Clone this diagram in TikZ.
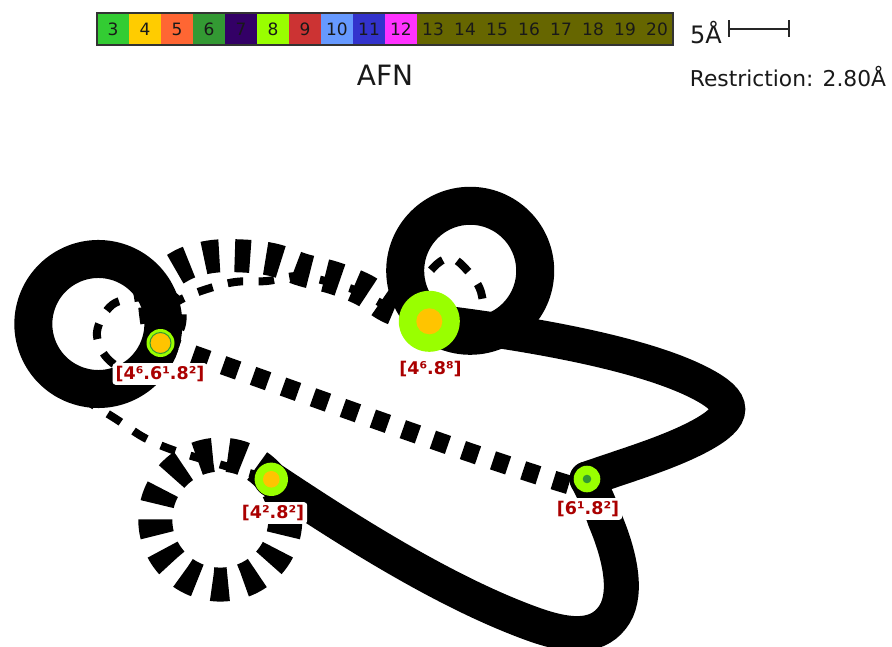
\documentclass[tikz,border=0pt]{standalone}
\usepackage{fontspec}
\setmainfont{DejaVu Sans}
\definecolor{c3}{HTML}{33CC33}
\definecolor{c4}{HTML}{FFCC00}
\definecolor{c5}{HTML}{FF6633}
\definecolor{c6}{HTML}{339933}
\definecolor{c7}{HTML}{330066}
\definecolor{c8}{HTML}{99FF00}
\definecolor{c9}{HTML}{CC3333}
\definecolor{c10}{HTML}{6699FF}
\definecolor{c11}{HTML}{3333CC}
\definecolor{c12}{HTML}{FF33FF}
\definecolor{c13}{HTML}{666600}
\definecolor{lab}{HTML}{AA0000}
\definecolor{orng}{HTML}{FFC400}
\tikzset{
  every node/.style={inner sep=0pt,outer sep=0pt},
  cell/.style={minimum width=32pt,minimum height=32pt,font=\fontsize{17}{17}\selectfont,text=black!90},
  ringedge/.style={line width=38pt,black},
  solidedge/.style={line width=35pt,black,line cap=round},
  thickdash/.style={line width=33pt,black,dash pattern=on 15.5pt off 15.5pt},
  loopdash/.style={line width=34pt,black,dash pattern=on 16pt off 15.42pt},
  stripdash/.style={line width=19pt,black,dash pattern=on 16pt off 15.8pt},
  thindash/.style={line width=8pt,black,dash pattern=on 15.5pt off 15.5pt},
  vert/.style={circle,minimum size=#1,fill=c8},
  core/.style={circle,minimum size=#1,fill=orng},
  vlabel/.style={fill=white,rounded corners=3pt,inner xsep=3pt,inner ysep=3pt,text=lab,font=\fontsize{17.5}{18}\bfseries\selectfont},
  title/.style={text=black!90}
}
\begin{document}
\begin{tikzpicture}[x=1pt,y=-1pt]
\path[use as bounding box,fill=white] (0,0) rectangle (892,647);
\clip (0,0) rectangle (892,647);
\coordinate (p1) at (160.5,343);
\coordinate (p2) at (429.3,321.3);
\coordinate (p3) at (271.3,479.3);
\coordinate (p4) at (587,479);
\coordinate (p4b) at (587,490);
\coordinate (c1) at (85,400);
\coordinate (c2) at (165,312);
% solid connectors
\draw[ringedge] (p1) arc[start angle=-17,end angle=-377,radius=65pt];
\draw[ringedge] (p2) arc[start angle=231,end angle=-129,radius=65pt];
\draw[solidedge] (p2) .. controls (520,332) and (640,352) .. (700,383)
   .. controls (737,402) and (737,416) .. (700,436)
   .. controls (668,453) and (630,464) .. (p4);
\draw[solidedge] (p3) .. controls (340,525) and (440,590) .. (530,623)
   .. controls (565,636) and (595,640) .. (612,618)
   .. controls (628,598) and (622,560) .. (605,520)
   .. controls (600,505) and (594,492) .. (p4);
% dashed connectors
\draw[loopdash,dash phase=19.5pt] (p3) arc[start angle=38.3,end angle=-321.7,radius=65pt];
\draw[thickdash,dash phase=9.5pt] plot[smooth,tension=.6] coordinates {(p1) (155,290) (179,267) (209,257) (243,256) (274,260) (303,270) (334,278) (364,290) (390,307) (p2)};
\draw[stripdash,dash phase=29pt] (p1) .. controls (300,392) and (500,466) .. (p4b);
\draw[thindash,dash phase=24pt] plot[smooth,tension=.6] coordinates {(p3) (205,460) (170,449) (143,437) (116,419) (c1)};
\draw[thindash,dash phase=23pt] plot[smooth,tension=.6] coordinates {(c2) (180,300) (204,290) (235,282) (267,281) (298,276) (329,282) (360,292) (391,308) (p2)};
\draw[thindash,dash phase=5.5pt] plot[smooth,tension=.6] coordinates {(p1) (130,368) (107,358) (97,332) (112,305) (140,297) (166,293) (181,305) (180,330) (p1)};
\draw[thindash,dash phase=6pt] plot[smooth,tension=.6] coordinates {(p2) (420,290) (433,268) (449,258) (464,267) (481,292) (480,325) (450,345) (p2)};
% vertices
\node[vert=28pt] (v1) at (p1) {};
\node[core=21pt,draw=c6,line width=1pt] (v1i) at (p1) {};
\node[vert=61pt] (v2) at (p2) {};
\node[core=26pt] (v2i) at (p2) {};
\node[vert=33.4pt] (v3) at (p3) {};
\node[core=16.6pt] (v3i) at (p3) {};
\node[vert=26.6pt] (v4) at (p4) {};
\node[core=8.6pt,fill=c6] (v4i) at (p4) {};
% labels
\node[vlabel] (l1) at (160,374) {[4⁶.6¹.8²]};
\node[vlabel] (l2) at (430.5,369) {[4⁶.8⁸]};
\node[vlabel] (l3) at (273,513) {[4².8²]};
\node[vlabel] (l4) at (588,509) {[6¹.8²]};
% legend
\foreach \n/\c [count=\i from 0] in {3/c3,4/c4,5/c5,6/c6,7/c7,8/c8,9/c9,10/c10,11/c11,12/c12,13/c13,14/c13,15/c13,16/c13,17/c13,18/c13,19/c13,20/c13}{
  \node[cell,fill=\c] (cell\n) at ({113+32*\i},29) {\n};
}
\node[draw=black!80,line width=1.5pt,minimum width=576pt,minimum height=32pt] (legend) at (385,29) {};
\node[title,font=\fontsize{28}{28}\selectfont] (afn) at (385,75) {AFN};
\node[title,font=\fontsize{24}{24}\selectfont] (five) at (706,33) {5Å};
\node[title,font=\fontsize{21.8}{22}\selectfont] (restr) at (788,77) {Restriction: 2.80Å};
\coordinate (s1) at (729,29);
\coordinate (s2) at (789,29);
\draw[black!85,line width=1.2pt] (s1) -- (s2);
\draw[black!85,line width=1.2pt] ([yshift=8.5pt]s1) -- ([yshift=-8.5pt]s1);
\draw[black!85,line width=1.2pt] ([yshift=8.5pt]s2) -- ([yshift=-8.5pt]s2);
\end{tikzpicture}
\end{document}
